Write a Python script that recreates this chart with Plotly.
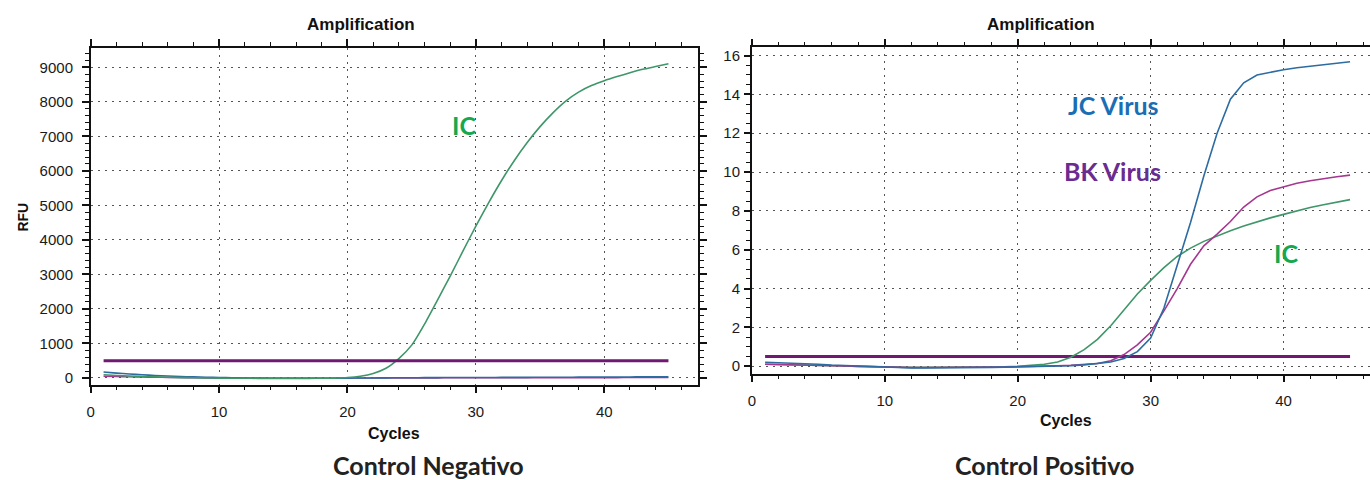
import plotly.graph_objects as go

W, H = 1370, 480

# ---------------- data ----------------
cycles = list(range(1, 46))

# Control Negativo (RFU)
neg_ic = [90, 70, 55, 40, 30, 20, 10, 5, 0, -5, -10, -10, -12, -12, -12, -12, -12, -10, -5, 10,
          50, 130, 280, 560, 950, 1560, 2250, 2950, 3680, 4400, 5080, 5720, 6300, 6820, 7280,
          7680, 8020, 8280, 8470, 8610, 8730, 8840, 8940, 9020, 9100]
neg_jc = [170, 140, 115, 90, 70, 55, 40, 30, 20, 10, 5, 0, -5, -8, -10, -10, -10, -10, -8, -5,
          -3, 0, 2, 4, 6, 8, 10, 11, 12, 13, 14, 15, 16, 17, 18, 19, 20, 22, 24, 25, 27, 28, 30, 32, 35]
neg_bk = [50, 40, 32, 25, 18, 12, 8, 4, 0, -3, -5, -6, -7, -8, -8, -8, -8, -8, -7, -6,
          -5, -4, -3, -2, -1, 0, 0, 1, 1, 2, 2, 3, 3, 4, 4, 5, 5, 6, 6, 7, 7, 8, 8, 9, 10]
neg_threshold = 500

# Control Positivo
pos_jc = [0.20, 0.18, 0.15, 0.12, 0.10, 0.06, 0.03, 0.00, -0.03, -0.06, -0.08, -0.09, -0.09, -0.09,
          -0.08, -0.08, -0.07, -0.06, -0.05, -0.04, -0.03, -0.02, 0.00, 0.03, 0.07, 0.13, 0.22,
          0.40, 0.75, 1.45, 3.0, 5.2, 7.4, 9.8, 12.0, 13.75, 14.6, 15.0, 15.15, 15.27, 15.37,
          15.46, 15.53, 15.60, 15.68]
pos_bk = [0.10, 0.09, 0.08, 0.07, 0.05, 0.03, 0.01, -0.01, -0.03, -0.05, -0.06, -0.07, -0.07,
          -0.07, -0.07, -0.06, -0.06, -0.05, -0.04, -0.03, -0.02, 0.00, 0.02, 0.05, 0.08, 0.14,
          0.28, 0.60, 1.10, 1.75, 2.85, 4.0, 5.25, 6.2, 6.8, 7.45, 8.2, 8.72, 9.05, 9.25, 9.42,
          9.55, 9.66, 9.76, 9.84]
pos_ic = [0.10, 0.09, 0.08, 0.07, 0.05, 0.03, 0.01, -0.01, -0.03, -0.05, -0.06, -0.06, -0.06,
          -0.06, -0.06, -0.06, -0.06, -0.05, -0.03, 0.00, 0.04, 0.10, 0.22, 0.46, 0.85, 1.38,
          2.08, 2.92, 3.72, 4.42, 5.08, 5.65, 6.08, 6.43, 6.72, 6.98, 7.22, 7.45, 7.64, 7.82, 8.0,
          8.17, 8.32, 8.46, 8.58]
pos_threshold = 0.5

# ---------------- styles ----------------
C_IC = "rgb(62,150,105)"
C_JC = "rgb(45,108,160)"
C_BK = "rgb(165,55,145)"
C_TH = "rgb(112,25,112)"
TICKFONT = dict(family="Liberation Sans, Arial, sans-serif", size=15, color="#1a1a1a")


def px(x):
    return x / W


def py(y):
    return 1 - y / H


fig = go.Figure()

# left chart
for ys, col, w in [(neg_bk, C_BK, 1.4), (neg_jc, C_JC, 1.6), (neg_ic, C_IC, 1.6)]:
    fig.add_trace(go.Scatter(x=cycles, y=ys, mode="lines", line=dict(color=col, width=w, shape="spline", smoothing=0.6),
                             xaxis="x", yaxis="y", showlegend=False))
fig.add_trace(go.Scatter(x=[cycles[0], cycles[-1]], y=[neg_threshold, neg_threshold], mode="lines",
                         line=dict(color=C_TH, width=3), xaxis="x", yaxis="y", showlegend=False))

# right chart
fig.add_trace(go.Scatter(x=[cycles[0], cycles[-1]], y=[pos_threshold, pos_threshold], mode="lines",
                         line=dict(color=C_TH, width=3), xaxis="x2", yaxis="y2", showlegend=False))
for ys, col in [(pos_ic, C_IC), (pos_bk, C_BK), (pos_jc, C_JC)]:
    fig.add_trace(go.Scatter(x=cycles, y=ys, mode="lines", line=dict(color=col, width=1.6),
                             xaxis="x2", yaxis="y2", showlegend=False))


def axis_style(dtick, minor, mirror, ticklen=7, standoff=4):
    return dict(
        showline=True, linecolor="#111", linewidth=1.5, mirror=mirror,
        ticks="outside", ticklen=ticklen, tickwidth=1.5, tickcolor="#111",
        tick0=0, dtick=dtick,
        minor=dict(dtick=minor, tick0=0, ticks="outside", ticklen=4, tickwidth=1.2,
                   tickcolor="#111", showgrid=False),
        showgrid=True, gridcolor="#555", gridwidth=1, griddash="2px,5px",
        zeroline=False, tickfont=TICKFONT, ticklabelstandoff=standoff,
    )


fig.update_layout(
    width=W, height=H,
    margin=dict(l=0, r=0, t=0, b=0),
    paper_bgcolor="white", plot_bgcolor="white",
    xaxis=dict(domain=[px(87), px(696)], anchor="y", range=[0, 47.3],
               **axis_style(10, 2, "ticks", standoff=6)),
    yaxis=dict(domain=[py(386), py(47)], anchor="x", range=[-193, 9567],
               **axis_style(1000, 200, "ticks", standoff=6)),
    xaxis2=dict(domain=[px(750), 1.0], anchor="y2", range=[0, 46.5],
                **axis_style(10, 2, "ticks", standoff=6)),
    yaxis2=dict(domain=[py(375), py(46.7)], anchor="x2", range=[-0.384, 16.42],
                **axis_style(2, 0.5, False, ticklen=6, standoff=1)),
)

BOLD = "Liberation Sans, Arial, sans-serif"
LABF = "Lato, 'Open Sans', sans-serif"


def ann(text, x, y, size, color="#111", family=BOLD, angle=0):
    fig.add_annotation(text=text, x=px(x), y=py(y), xref="paper", yref="paper",
                       showarrow=False, xanchor="center", yanchor="middle", textangle=angle,
                       font=dict(family=family, size=size, color=color))


ann("<b>Amplification</b>", 358, 24, 17)
ann("<b>Amplification</b>", 1040, 24, 17)
ann("<b>Cycles</b>", 391, 435, 16)
ann("<b>Cycles</b>", 1065, 422, 16)
ann("<b>RFU</b>", 19, 217, 14, angle=-90)
ann("<b>Control Negativo</b>", 426, 467, 25, color="#222", family=LABF)
ann("<b>Control Positivo</b>", 1044, 467, 25, color="#222", family=LABF)
ann("<b>IC</b>", 461, 125, 25, color="rgb(22,168,78)", family=LABF)
ann("<b>JC Virus</b>", 1113, 105, 25, color="rgb(27,110,180)", family=LABF)
ann("<b>BK Virus</b>", 1112, 171, 25, color="rgb(106,44,145)", family=LABF)
ann("<b>IC</b>", 1286, 254, 25, color="rgb(22,168,78)", family=LABF)

fig.write_html("out.html")
